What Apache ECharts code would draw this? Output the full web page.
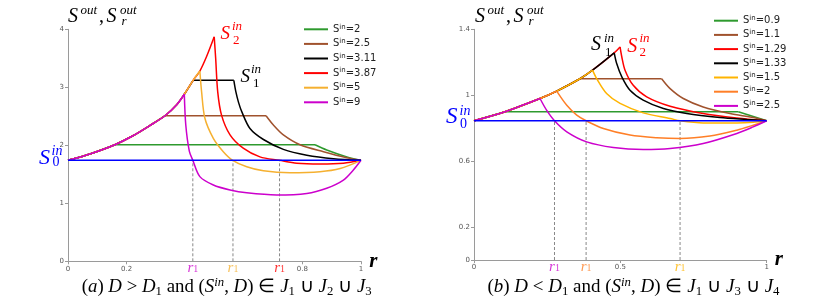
<!DOCTYPE html>
<html><head><meta charset="utf-8">
<script src="https://cdn.jsdelivr.net/npm/echarts@6/dist/echarts.min.js"></script>
<style>html,body{margin:0;padding:0;background:#fff}#c{width:821px;height:307px}</style>
</head><body><div id="c"></div>
<script>
// ================= DATA =================
// Panel (a)
const leftS0 = 1.741;
const leftNames = ['2', '2.5', '3.11', '3.87', '5', '9'];
// common rising branch, from r = 0 up to the S2 peak
const leftEnvelope = [[0,1.741],[0.08,1.86],[0.16,2.01],[0.22,2.16],[0.279,2.34],[0.331,2.51],[0.371,2.70],[0.397,2.88],[0.427,3.12],[0.45,3.28],[0.473,3.53],[0.499,3.87]];
const leftPeakIndex = [2, 5, 8, 11, 9, 7];
const leftFlat = [true, true, true, false, false, false];
const leftTail_2    = [[0.843,2.01],[0.883,1.92],[0.952,1.80],[1,1.741]];
const leftTail_2_5  = [[0.676,2.51],[0.701,2.35],[0.735,2.18],[0.792,2.01],[0.872,1.89],[0.952,1.786],[1,1.741]];
const leftTail_3_11 = [[0.566,3.12],[0.573,2.92],[0.582,2.74],[0.593,2.58],[0.621,2.29],[0.667,2.10],[0.735,1.93],[0.815,1.83],[0.906,1.77],[1,1.741]];
const leftTail_3_87 = [[0.504,3.5],[0.511,2.92],[0.524,2.52],[0.553,2.18],[0.598,1.95],[0.655,1.80],[0.721,1.741],[0.781,1.69],[0.86,1.677],[0.94,1.69],[1,1.741]];
const leftTail_5    = [[0.456,2.92],[0.467,2.47],[0.496,2.12],[0.53,1.89],[0.562,1.741],[0.61,1.63],[0.667,1.56],[0.758,1.528],[0.86,1.545],[0.929,1.60],[1,1.741]];
const leftTail_9    = [[0.402,2.35],[0.414,1.9],[0.426,1.741],[0.45,1.46],[0.496,1.316],[0.553,1.23],[0.61,1.18],[0.712,1.143],[0.815,1.17],[0.883,1.26],[0.94,1.40],[0.974,1.574],[1,1.741]];
const leftTails = [leftTail_2, leftTail_2_5, leftTail_3_11, leftTail_3_87, leftTail_5, leftTail_9];
const leftR1 = [0.426, 0.563, 0.722];
const leftXTicks = [0, 0.2, 0.8, 1];
const leftYTicks = [0, 1, 2, 3, 4];

// Panel (b)
const rightS0 = 0.845;
const rightNames = ['0.9', '1.1', '1.29', '1.33', '1.5', '2', '2.5'];
const rightEnvelope = [[0,0.845],[0.106,0.9],[0.2255,0.98],[0.2825,1.025],[0.362,1.1],[0.405,1.152],[0.479,1.257],[0.499,1.293]];
const rightPeakIndex = [1, 4, 7, 6, 5, 3, 2];
const rightFlat = [true, true, false, false, false, false, false];
const rightTail_0_9  = [[0.903,0.9],[1,0.845]];
const rightTail_1_1  = [[0.641,1.1],[0.67,1.04],[0.715,0.98],[0.783,0.929],[0.875,0.889],[0.954,0.865],[1,0.845]];
const rightTail_1_29 = [[0.505,1.232],[0.516,1.152],[0.544,1.06],[0.59,0.99],[0.67,0.933],[0.783,0.889],[0.898,0.862],[1,0.845]];
const rightTail_1_33 = [[0.4875,1.192],[0.505,1.111],[0.533,1.03],[0.578,0.97],[0.647,0.919],[0.727,0.889],[0.84,0.865],[0.932,0.853],[1,0.845]];
const rightTail_1_5  = [[0.419,1.101],[0.453,1.01],[0.499,0.95],[0.578,0.893],[0.67,0.859],[0.704,0.845],[0.783,0.832],[0.898,0.832],[0.954,0.836],[1,0.845]];
const rightTail_2    = [[0.317,0.939],[0.351,0.879],[0.383,0.845],[0.442,0.798],[0.533,0.758],[0.624,0.742],[0.704,0.737],[0.806,0.752],[0.898,0.788],[0.954,0.818],[1,0.845]];
const rightTail_2_5  = [[0.248,0.909],[0.275,0.845],[0.317,0.778],[0.385,0.717],[0.476,0.683],[0.578,0.671],[0.67,0.677],[0.783,0.707],[0.898,0.768],[0.954,0.808],[1,0.845]];
const rightTails = [rightTail_0_9, rightTail_1_1, rightTail_1_29, rightTail_1_33, rightTail_1_5, rightTail_2, rightTail_2_5];
const rightR1 = [0.275, 0.383, 0.704];
const rightXTicks = [0, 0.5, 1];
const rightYTicks = [0, 0.2, 0.6, 1, 1.4];

// ================= STYLES =================
const leftColors  = ['#2e9a2e', '#a0522d', '#000000', '#ff0000', '#f5b030', '#cc00cc'];
const rightColors = ['#2e9a2e', '#a0522d', '#ff0000', '#000000', '#ffb400', '#ff7f27', '#cc00cc'];
const leftR1Colors  = ['#cc00cc', '#f5b030', '#ff0000'];
const rightR1Colors = ['#cc00cc', '#ff7f27', '#ffb400'];
const BLUE = '#0000ff';
const SERIF = '"Liberation Serif", "Times New Roman", serif';

// ================= BUILD =================
const series = [];
function piece(idx, name, data, color, smooth) {
  series.push({
    type: 'line', name: name, xAxisIndex: idx, yAxisIndex: idx, data: data,
    symbol: 'none', silent: true, clip: false,
    smooth: smooth ? 0.3 : false,
    lineStyle: { color: color, width: 1.5 }, itemStyle: { color: color },
    emphasis: { disabled: true }, z: 3
  });
}
function addPanel(idx, prefix, names, env, peaks, flats, tails, colors, s0, r1s, r1Colors) {
  names.forEach((n, k) => {
    const rise = env.slice(0, peaks[k] + 1);
    const top = rise[rise.length - 1];
    const tail = tails[k];
    piece(idx, prefix + n, rise, colors[k], true);
    if (flats[k]) {
      piece(idx, prefix + n, [top, tail[0]], colors[k], false);
      piece(idx, prefix + n, tail, colors[k], true);
    } else {
      piece(idx, prefix + n, [top].concat(tail), colors[k], true);
    }
  });
  r1s.forEach(r => {
    series.push({
      type: 'line', name: prefix + 'dash', xAxisIndex: idx, yAxisIndex: idx,
      data: [[r, 0], [r, s0]], symbol: 'none', silent: true,
      lineStyle: { color: '#888', width: 1, type: [3, 2] }, z: 2
    });
  });
  series.push({
    type: 'line', name: prefix + 'S0', xAxisIndex: idx, yAxisIndex: idx,
    data: [[0, s0], [1, s0]], symbol: 'none', silent: true,
    lineStyle: { color: BLUE, width: 1.5 }, z: 4
  });
  const rich = {};
  r1Colors.forEach((c, i) => {
    rich['r' + i] = { fontFamily: SERIF, fontStyle: 'italic', fontSize: 15, lineHeight: 13, color: c };
    rich['s' + i] = { fontFamily: SERIF, fontSize: 10, lineHeight: 8, verticalAlign: 'bottom', color: c };
  });
  series.push({
    type: 'scatter', name: prefix + 'r1', xAxisIndex: idx, yAxisIndex: idx,
    data: r1s.map(r => [r, 0]), symbolSize: 1, itemStyle: { color: 'rgba(0,0,0,0)' }, silent: true,
    label: {
      show: true, position: 'bottom', distance: 0, offset: [3, -2],
      formatter: p => '{r' + p.dataIndex + '|r}{s' + p.dataIndex + '|1}', rich: rich
    },
    labelLayout: { hideOverlap: false }, z: 5
  });
}
addPanel(0, 'a:', leftNames, leftEnvelope, leftPeakIndex, leftFlat, leftTails, leftColors, leftS0, leftR1, leftR1Colors);
addPanel(1, 'b:', rightNames, rightEnvelope, rightPeakIndex, rightFlat, rightTails, rightColors, rightS0, rightR1, rightR1Colors);

function xAxis(idx, ticks) {
  return {
    type: 'value', gridIndex: idx, min: 0, max: 1,
    splitLine: { show: false },
    axisLine: { lineStyle: { color: '#9a9a9a', width: 1 } },
    axisTick: { show: true, customValues: ticks, length: 3, lineStyle: { color: '#9a9a9a' } },
    axisLabel: { customValues: ticks, fontSize: 7, color: '#555', margin: 4, fontFamily: 'DejaVu Sans' },
    name: 'r', nameLocation: 'end', nameGap: 6,
    nameTextStyle: { fontFamily: SERIF, fontStyle: 'italic', fontWeight: 'bold', fontSize: 21, color: '#000', verticalAlign: 'middle', padding: [0, 0, 6, 0] }
  };
}
function yAxis(idx, ticks, max) {
  return {
    type: 'value', gridIndex: idx, min: 0, max: max,
    splitLine: { show: false },
    axisLine: { show: true, lineStyle: { color: '#9a9a9a', width: 1 } },
    axisTick: { show: true, customValues: ticks, length: 3, lineStyle: { color: '#9a9a9a' } },
    axisLabel: { customValues: ticks, fontSize: 7, color: '#555', margin: 4, fontFamily: 'DejaVu Sans' }
  };
}
function legend(prefix, names, left, top, gap) {
  return {
    orient: 'vertical', left: left, top: top, padding: 0, itemGap: gap,
    itemWidth: 24, itemHeight: 2, icon: 'rect', selectedMode: false,
    data: names.map(n => prefix + n),
    formatter: n => 'S{sup|in}=' + n.slice(2),
    textStyle: {
      fontFamily: 'DejaVu Sans', fontSize: 10, color: '#222', lineHeight: 12,
      rich: { sup: { fontFamily: 'DejaVu Sans', fontSize: 7, lineHeight: 7, verticalAlign: 'top', color: '#222' } }
    }
  };
}

// text annotations (placed by baseline)
function T(x, base, text, size, color, italic) {
  return { type: 'text', x: x, y: base - 0.84 * size, silent: true, z: 100,
    style: { text: text, fill: color, font: (italic ? 'italic ' : '') + size + 'px ' + SERIF } };
}
function yName(dx) {
  return [
    T(68 + dx, 23.3, 'S', 20, '#000', true),
    T(80.5 + dx, 15, 'out', 13, '#000', true),
    T(99 + dx, 23.5, ',', 20, '#000', false),
    T(106.5 + dx, 23.3, 'S', 20, '#000', true),
    T(120 + dx, 15, 'out', 13, '#000', true),
    T(121.5 + dx, 25.5, 'r', 13, '#000', true)
  ];
}
const CAP = 18.5;
function capRich() {
  return {
    n: { fontFamily: SERIF, fontSize: CAP, lineHeight: 22, fill: '#000' },
    i: { fontFamily: SERIF, fontStyle: 'italic', fontSize: CAP, lineHeight: 22, fill: '#000' },
    b: { fontFamily: SERIF, fontSize: 12.5, lineHeight: 12, verticalAlign: 'bottom', fill: '#000' },
    t: { fontFamily: SERIF, fontStyle: 'italic', fontSize: 12.5, lineHeight: 12, verticalAlign: 'top', fill: '#000' }
  };
}
const captionA = '{n|(}{i|a}{n|) }{i|D}{n| > }{i|D}{b|1}{n| and (}{i|S}{t|in}{n|, }{i|D}{n|) \u2208 }{i|J}{b|1}{n| \u222A }{i|J}{b|2}{n| \u222A }{i|J}{b|3}';
const captionB = '{n|(}{i|b}{n|) }{i|D}{n| < }{i|D}{b|1}{n| and (}{i|S}{t|in}{n|, }{i|D}{n|) \u2208 }{i|J}{b|1}{n| \u222A }{i|J}{b|3}{n| \u222A }{i|J}{b|4}';
function caption(text, x0, x1, baseline) {
  const style = { text: text, rich: capRich(), fill: '#000', font: CAP + 'px ' + SERIF };
  let sx = 1;
  try {
    const el = new echarts.graphic.Text({ style: style });
    const w = el.getBoundingRect().width;
    if (w > 0) sx = (x1 - x0) / w;
  } catch (e) {}
  return { type: 'text', x: x0, y: baseline - 11 - 0.3375 * CAP, scaleX: sx, silent: true, style: style };
}

const graphics = [].concat(
  yName(0), yName(407),
  [
    T(39, 165.5, 'S', 22, BLUE, true), T(51.5, 156, 'in', 14, BLUE, true), T(52.5, 167.5, '0', 14, BLUE, false),
    T(446, 125, 'S', 23, BLUE, true), T(459.5, 116.5, 'in', 14, BLUE, true), T(460, 129.5, '0', 14, BLUE, false),
    T(220.5, 40.5, 'S', 19, '#ff0000', true), T(232, 30.5, 'in', 13, '#ff0000', true), T(233, 45, '2', 13, '#ff0000', false),
    T(240.5, 83.5, 'S', 19, '#000', true), T(251, 73.5, 'in', 13, '#000', true), T(253, 88, '1', 13, '#000', false),
    T(591, 51.7, 'S', 20, '#000', true), T(604, 43, 'in', 13, '#000', true), T(605, 56.5, '1', 13, '#000', false),
    T(627.3, 53.3, 'S', 20, '#ff0000', true), T(639.5, 43, 'in', 13, '#ff0000', true), T(639.5, 56.5, '2', 13, '#ff0000', false),
    caption(captionA, 81.7, 371.7, 293),
    caption(captionB, 487.5, 779.5, 293)
  ]
);

const chart = echarts.init(document.getElementById('c'), null, { renderer: 'canvas' });
chart.setOption({
  animation: false,
  backgroundColor: '#fff',
  grid: [
    { left: 68, top: 29.3, width: 293, height: 232 },
    { left: 474, top: 29.3, width: 292.7, height: 230.7 }
  ],
  xAxis: [xAxis(0, leftXTicks), xAxis(1, rightXTicks)],
  yAxis: [yAxis(0, leftYTicks, 4), yAxis(1, rightYTicks, 1.4)],
  legend: [legend('a:', leftNames, 304, 23.3, 2.6), legend('b:', rightNames, 714, 14.7, 2.2)],
  series: series,
  graphic: graphics
});
</script></body></html>
